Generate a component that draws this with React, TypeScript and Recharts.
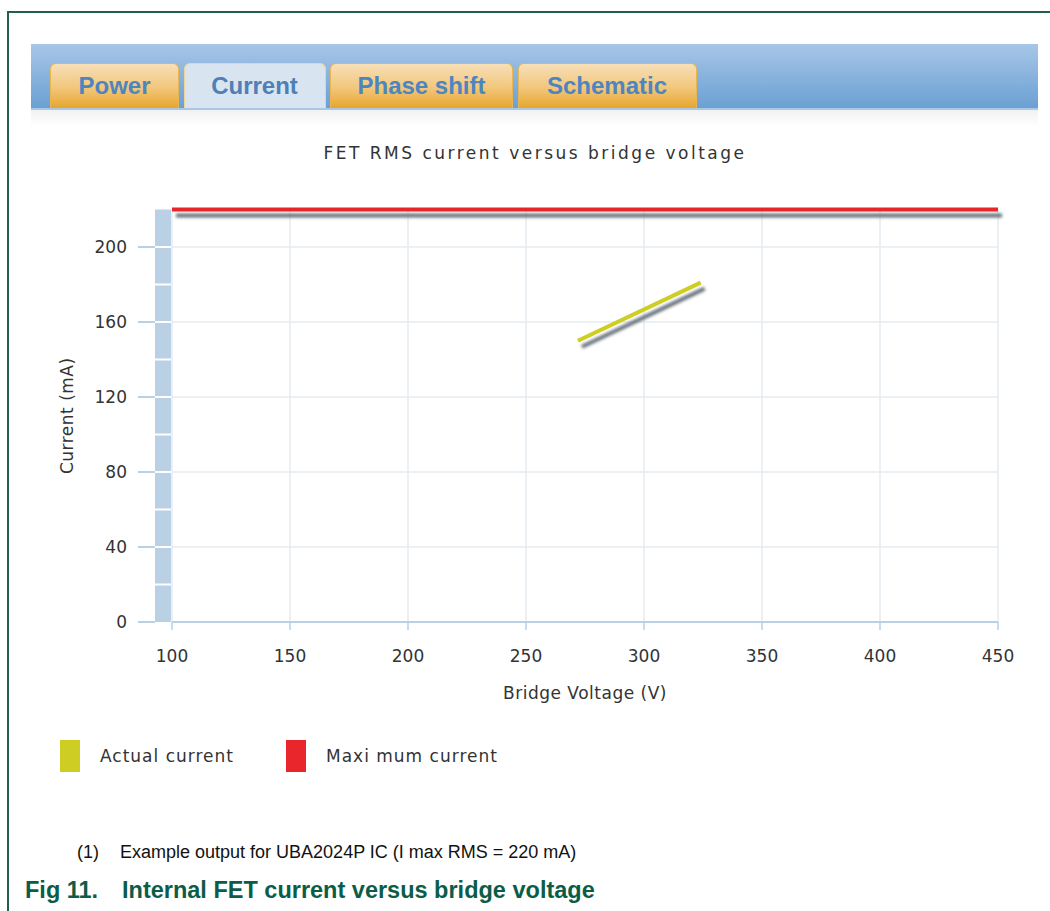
import React from "react";
import { LineChart, Line, XAxis, YAxis, CartesianGrid, Label } from "recharts";

// tabs above the chart
const tabs = ["Power", "Current", "Phase shift", "Schematic"];
const tabWidths = [129, 142, 183, 179];
const activeTab = "Current";

// axes
const xTicks = [100, 150, 200, 250, 300, 350, 400, 450];
const yTicks = [0, 40, 80, 120, 160, 200];
const yBarTicks = [0, 20, 40, 60, 80, 100, 120, 140, 160, 180, 200];

// series (bridge voltage V, current mA)
const actualCurrent = [
  { v: 272, i: 150 },
  { v: 324, i: 181 },
];
const maximumCurrent = [
  { v: 100, i: 220 },
  { v: 450, i: 220 },
];

const series = [
  { name: "Actual current", color: "#cdcd24", data: actualCurrent },
  { name: "Maxi mum current", color: "#e8262b", data: maximumCurrent },
];

const chartFont = "'DejaVu Sans', Verdana, sans-serif";
const axisBlue = "#b9d0e5";

function NoTick() {
  return <g />;
}

// y axis: blue bar with white separators, blue tick marks and labels every 40
function BarTick(props: any) {
  const { x, y, payload } = props;
  const major = payload.value % 40 === 0;
  return (
    <g>
      {payload.value !== 0 && (
        <line x1={x - 8} x2={x + 8} y1={y} y2={y} stroke="#ffffff" strokeWidth={2} />
      )}
      {major && <line x1={x - 25} x2={x - 8} y1={y} y2={y} stroke={axisBlue} strokeWidth={2} />}
      {major && (
        <text
          x={x - 36}
          y={y}
          dy="0.36em"
          textAnchor="end"
          fontSize={17}
          fontFamily={chartFont}
          fill="#333"
        >
          {payload.value}
        </text>
      )}
    </g>
  );
}

export default function App() {
  return (
    <div
      style={{
        position: "absolute",
        left: 0,
        top: 0,
        width: 1050,
        height: 911,
        background: "#fff",
        overflow: "hidden",
        fontFamily: "'Liberation Sans', Arial, sans-serif",
      }}
    >
      {/* frame */}
      <div
        style={{
          position: "absolute",
          left: 7,
          top: 11,
          width: 1050,
          height: 920,
          borderTop: "2px solid #1f5f4b",
          borderLeft: "2px solid #1f5f4b",
        }}
      />

      {/* tab bar */}
      <div
        style={{
          position: "absolute",
          left: 31,
          top: 44,
          width: 1007,
          height: 66,
          background: "linear-gradient(#a7c6e8, #6ba0d3)",
          borderBottom: "2px solid #a9c8e6",
          boxSizing: "border-box",
        }}
      >
        <div style={{ display: "flex", gap: 4.5, paddingLeft: 19, paddingTop: 19 }}>
          {tabs.map((t, k) => {
            const active = t === activeTab;
            return (
              <div
                key={t}
                style={{
                  width: tabWidths[k],
                  height: 45,
                  boxSizing: "border-box",
                  borderRadius: "6px 6px 0 0",
                  border: active ? "1px solid #efd397" : "1px solid #e7b652",
                  borderBottom: "none",
                  background: active
                    ? "#d8e5f1"
                    : "linear-gradient(#f7dfb8, #f2c67a 55%, #e7a62c)",
                  color: active ? "#4f7fb6" : "#4d85c0",
                  fontWeight: "bold",
                  fontSize: 24,
                  display: "flex",
                  alignItems: "center",
                  justifyContent: "center",
                }}
              >
                {t}
              </div>
            );
          })}
        </div>
      </div>
      <div
        style={{
          position: "absolute",
          left: 31,
          top: 110,
          width: 1007,
          height: 16,
          background: "linear-gradient(#f1f1f1, #ffffff)",
        }}
      />

      {/* chart title */}
      <div
        style={{
          position: "absolute",
          left: 0,
          width: 1070,
          top: 142,
          textAlign: "center",
          fontFamily: chartFont,
          fontSize: 17,
          letterSpacing: 2.5,
          color: "#333",
          lineHeight: "22px",
        }}
      >
        FET RMS current versus bridge voltage
      </div>

      <div style={{ position: "absolute", left: 0, top: 0 }}>
        <LineChart
          width={1050}
          height={720}
          margin={{ top: 209.5, right: 52, left: 30, bottom: 0 }}
        >
          <defs>
            <filter
              id="lineShadow"
              filterUnits="userSpaceOnUse"
              x={0}
              y={0}
              width={1050}
              height={720}
            >
              <feDropShadow dx={4} dy={6} stdDeviation={1.6} floodColor="#66717c" floodOpacity={1} />
            </filter>
          </defs>
          <CartesianGrid
            yAxisId="m"
            stroke="#e5ebf1"
            strokeWidth={1.5}
            horizontalValues={yTicks}
            verticalValues={xTicks}
          />
          <XAxis
            dataKey="v"
            type="number"
            domain={[100, 450]}
            ticks={xTicks}
            height={98}
            axisLine={{ stroke: axisBlue, strokeWidth: 2 }}
            tickLine={{ stroke: axisBlue, strokeWidth: 1.5 }}
            tickSize={8}
            tickMargin={20}
            tick={{ fill: "#333", fontSize: 17, fontFamily: chartFont }}
            interval={0}
          >
            <Label
              value="Bridge Voltage (V)"
              position="insideBottom"
              offset={21}
              style={{ fill: "#333", fontSize: 17, fontFamily: chartFont, letterSpacing: 0.5 }}
            />
          </XAxis>
          <YAxis
            yAxisId="m"
            width={9}
            type="number"
            domain={[0, 220]}
            ticks={yTicks}
            interval={0}
            tick={<NoTick />}
            tickLine={false}
            axisLine={false}
          />
          <YAxis
            yAxisId="s"
            width={133}
            type="number"
            domain={[0, 220]}
            allowDataOverflow
            ticks={yBarTicks}
            interval={0}
            tickSize={0}
            tickMargin={0}
            tickLine={false}
            axisLine={{ stroke: axisBlue, strokeWidth: 16 }}
            tick={<BarTick />}
          >
            <Label
              value="Current (mA)"
              angle={-90}
              position="insideLeft"
              offset={37}
              style={{
                textAnchor: "middle",
                fill: "#333",
                fontSize: 17,
                fontFamily: chartFont,
                letterSpacing: 0.5,
              }}
            />
          </YAxis>
          {series
            .slice()
            .reverse()
            .map((s) => (
              <Line
                key={s.name}
                yAxisId="m"
                data={s.data}
                dataKey="i"
                name={s.name}
                type="linear"
                stroke={s.color}
                strokeWidth={4}
                dot={false}
                activeDot={false}
                filter="url(#lineShadow)"
                isAnimationActive={false}
              />
            ))}
        </LineChart>
      </div>

      {/* legend */}
      <div
        style={{
          position: "absolute",
          left: 60,
          top: 740,
          display: "flex",
          fontFamily: chartFont,
          fontSize: 17,
          letterSpacing: 1,
          color: "#333",
        }}
      >
        {series.map((s) => (
          <div key={s.name} style={{ width: 226, display: "flex", alignItems: "center" }}>
            <div style={{ width: 20, height: 32, background: s.color, marginRight: 20 }} />
            <span>{s.name}</span>
          </div>
        ))}
      </div>

      {/* notes */}
      <div
        style={{
          position: "absolute",
          left: 77,
          top: 842,
          fontSize: 18,
          color: "#111",
          whiteSpace: "nowrap",
        }}
      >
        <span>(1)</span>
        <span style={{ position: "absolute", left: 43 }}>
          Example output for UBA2024P IC (I max RMS = 220 mA)
        </span>
      </div>
      <div
        style={{
          position: "absolute",
          left: 25,
          top: 877,
          fontSize: 23.5,
          fontWeight: "bold",
          color: "#0b5d48",
          whiteSpace: "nowrap",
        }}
      >
        <span>Fig 11.</span>
        <span style={{ position: "absolute", left: 97 }}>
          Internal FET current versus bridge voltage
        </span>
      </div>
    </div>
  );
}
